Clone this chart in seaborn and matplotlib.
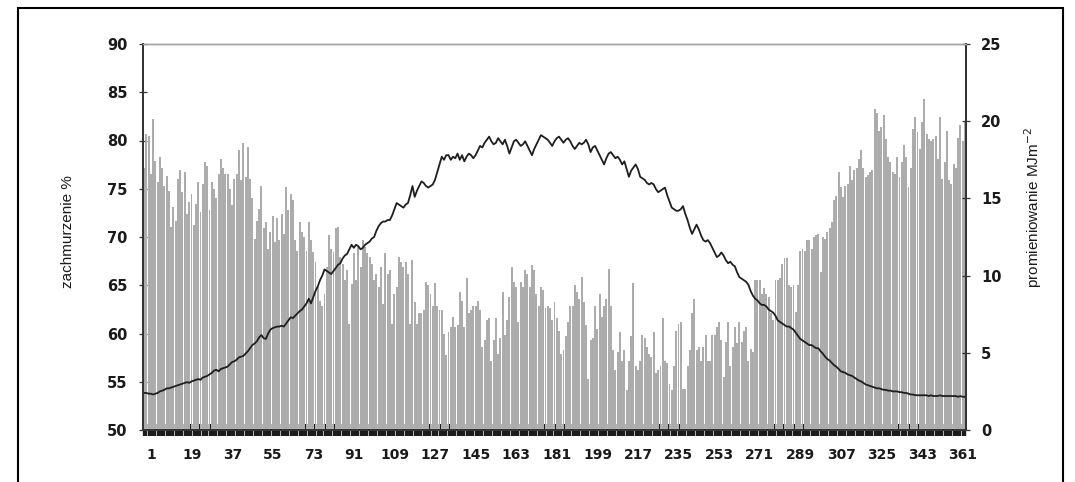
import matplotlib
matplotlib.use("Agg")
import matplotlib.pyplot as plt
import matplotlib.patches as mpatches
import matplotlib.transforms as mtransforms
import numpy as np
import pandas as pd
import seaborn as sns

# ---- data ----
cloud_jan_feb = [77.1, 80.7, 80.5, 76.5, 82.2, 77.9, 75.7, 78.3, 77.2, 75.3,
                 76.3, 74.8, 71.0, 73.1, 71.7, 76.0, 76.9, 74.7, 76.7, 72.4,
                 73.6, 74.5, 71.2, 73.4, 75.7, 72.6, 75.5, 77.8, 77.4, 72.8,
                 75.7, 75.0, 74.0, 76.5, 78.1, 77.2, 76.5, 76.5, 75.0, 73.3,
                 76.0, 76.5, 79.0, 75.9, 79.7, 76.2, 79.3, 76.0, 74.0, 69.8,
                 71.7, 72.9, 75.3, 70.9, 71.6, 68.8, 70.5, 72.2, 69.5]
cloud_mar_apr = [72.0, 69.7, 72.4, 70.3, 75.2, 72.8, 74.5, 73.8, 69.7, 68.6,
                 71.6, 70.5, 70.0, 68.6, 71.6, 69.7, 68.4, 67.4, 64.8, 63.4,
                 62.8, 64.1, 66.9, 70.2, 68.8, 68.4, 70.9, 71.0, 67.9, 67.2,
                 65.5, 66.6, 61.0, 65.1, 68.3, 65.5, 69.0, 66.9, 69.7, 69.0,
                 68.3, 67.9, 67.2, 65.5, 66.2, 64.8, 66.9, 63.1, 68.3, 66.2,
                 66.6, 61.0, 64.1, 64.8, 67.9, 67.4, 66.9, 67.4, 66.2, 61.0]
cloud_may_jun = [67.6, 63.3, 61.0, 62.1, 62.1, 62.4, 65.3, 65.0, 64.1, 62.8,
                 65.2, 62.8, 62.4, 62.4, 60.0, 57.8, 60.2, 60.7, 61.7, 60.7,
                 60.9, 64.3, 63.4, 60.7, 65.7, 62.1, 62.4, 62.8, 62.9, 63.4,
                 62.4, 58.6, 59.3, 61.4, 61.6, 57.2, 59.3, 61.6, 57.9, 59.5,
                 64.3, 59.8, 61.4, 63.8, 66.9, 65.3, 64.8, 61.2, 65.3, 64.8,
                 66.6, 66.2, 64.8, 67.1, 66.6, 64.1, 62.8, 64.8, 64.5, 62.6,
                 62.8, 62.6, 61.4]
cloud_jul_aug = [63.3, 61.6, 60.3, 57.9, 58.3, 59.7, 61.2, 62.8, 62.8, 65.0,
                 64.3, 63.6, 65.9, 63.3, 60.9, 55.3, 59.3, 59.5, 62.8, 60.5,
                 64.1, 61.7, 62.8, 63.6, 66.7, 62.8, 58.3, 56.2, 58.1, 60.2,
                 57.2, 58.3, 54.1, 57.2, 59.7, 65.2, 56.6, 56.2, 57.2, 59.8,
                 59.5, 58.6, 57.9, 57.6, 60.2, 55.9, 56.2, 56.6, 61.6, 57.1,
                 56.9, 54.8, 54.1, 56.6, 60.3, 61.0]
cloud_sep_oct = [61.2, 54.3, 54.3, 56.6, 58.3, 62.1, 63.6, 58.3, 58.6, 57.2,
                 58.6, 59.8, 57.2, 57.1, 59.8, 59.8, 60.7, 61.2, 59.3, 55.5,
                 59.1, 61.2, 56.6, 58.6, 60.7, 59.0, 61.2, 59.1, 60.3, 60.7,
                 57.1, 58.4, 58.1, 65.5, 65.5, 65.5, 64.1, 64.7, 64.1, 63.8,
                 62.1, 61.4, 65.5, 65.5, 65.7, 67.2, 67.8, 67.8, 65.0, 64.8,
                 65.0, 62.2, 65.0, 68.6, 68.8, 68.6, 69.7, 69.7, 68.8, 70.0,
                 70.2]
cloud_nov_dec = [70.3, 66.4, 70.0, 69.8, 70.5, 70.9, 71.6, 73.8, 74.3, 76.7,
                 75.2, 74.1, 75.3, 75.5, 77.4, 75.9, 76.9, 77.2, 78.1, 79.0,
                 77.2, 76.2, 76.4, 76.7, 76.9, 83.3, 82.9, 81.0, 81.4, 82.6,
                 80.2, 78.3, 77.8, 76.7, 76.5, 78.3, 76.2, 77.8, 79.5, 78.3,
                 75.2, 77.2, 81.2, 82.4, 80.9, 79.1, 81.9, 84.3, 80.7, 80.2,
                 80.0, 80.2, 80.5, 78.1, 82.4, 76.0, 77.8, 81.0, 75.9, 75.5,
                 77.6, 77.2, 80.3, 81.6, 80.0, 81.9]

radiation = [
    2.4, 2.4, 2.35, 2.35, 2.3, 2.35, 2.4, 2.5, 2.55, 2.6, 2.7, 2.7, 2.75, 2.8, 2.85,
    2.9, 2.95, 3.0, 3.05, 3.1, 3.05, 3.15, 3.2, 3.25, 3.3, 3.25, 3.4, 3.45, 3.5, 3.6,
    3.7, 3.85, 3.9, 3.8, 3.95, 4.0, 4.05, 4.1, 4.25, 4.4, 4.45, 4.55, 4.7, 4.75, 4.8,
    4.95, 5.1, 5.3, 5.5, 5.6, 5.75, 6.0, 6.15, 5.95, 5.9, 6.25, 6.5, 6.6, 6.65, 6.7,
    6.7, 6.75, 6.7, 6.9, 7.1, 7.3, 7.25, 7.4, 7.55, 7.7, 7.8, 8.0, 8.2, 8.5, 8.2,
    8.6, 9.0, 9.3, 9.7, 10.0, 10.4, 10.3, 10.2, 10.1, 10.3, 10.5, 10.7, 10.8, 11.1, 11.3,
    11.4, 11.7, 12.0, 11.8, 12.0, 11.9, 11.7, 11.8, 12.0, 12.1, 12.2, 12.4, 12.5, 12.9, 13.2,
    13.4, 13.5, 13.5, 13.6, 13.6, 13.9, 14.3, 14.7, 14.6, 14.5, 14.4, 14.6, 14.7, 15.2, 15.8,
    15.1, 15.5, 15.8, 16.1, 16.0, 15.8, 15.7, 15.8, 15.9, 16.2, 16.7, 17.2, 17.7, 17.5, 17.8,
    17.8, 17.5, 17.7, 17.6, 17.9, 17.5, 17.8, 17.4, 17.7, 17.9, 17.8, 17.6, 17.8, 18.1, 18.4,
    18.3, 18.6, 18.8, 19.0, 18.7, 18.5, 18.6, 18.9, 18.7, 18.5, 18.8, 18.4, 17.9, 18.3, 18.7,
    18.8, 18.6, 18.4, 18.5, 18.7, 18.4, 18.1, 17.8, 18.2, 18.5, 18.8, 19.1, 19.0, 18.9, 18.8,
    18.6, 18.4, 18.7, 18.9, 19.0, 18.8, 18.6, 18.8, 18.9, 18.7, 18.4, 18.2, 18.4, 18.6, 18.5,
    18.6, 18.8, 18.5, 18.0, 18.3, 18.4, 18.1, 17.8, 17.5, 17.2, 17.6, 17.9, 18.0, 17.8, 17.6,
    17.7, 17.5, 17.2, 17.4, 16.9, 16.4, 16.8, 17.0, 17.2, 16.9, 16.4, 16.3, 16.2, 16.0, 15.9,
    16.0, 15.9, 15.6, 15.4, 15.5, 15.6, 15.7, 15.2, 14.8, 14.4, 14.3, 14.2, 14.2, 14.3, 14.5,
    14.0, 13.6, 13.1, 12.7, 13.0, 13.3, 13.0, 12.6, 12.3, 12.2, 12.3, 12.1, 11.8, 11.5, 11.2,
    11.3, 11.5, 11.3, 11.0, 10.8, 10.9, 10.7, 10.6, 10.2, 9.9, 9.8, 9.7, 9.6, 9.4, 9.0,
    8.7, 8.5, 8.4, 8.2, 8.1, 8.1, 8.0, 7.8, 7.7, 7.6, 7.4, 7.1, 7.0, 6.9, 6.8,
    6.7, 6.7, 6.6, 6.5, 6.3, 6.1, 5.9, 5.8, 5.7, 5.6, 5.5, 5.5, 5.4, 5.3, 5.3,
    5.1, 4.95, 4.75, 4.6, 4.5, 4.35, 4.2, 4.1, 3.95, 3.8, 3.75, 3.7, 3.6, 3.55, 3.5,
    3.4, 3.3, 3.2, 3.15, 3.05, 2.95, 2.9, 2.85, 2.8, 2.75, 2.7, 2.7, 2.65, 2.6, 2.6,
    2.55, 2.55, 2.5, 2.5, 2.5, 2.45, 2.45, 2.4, 2.4, 2.35, 2.3, 2.3, 2.25, 2.25, 2.25,
    2.25, 2.25, 2.25, 2.2, 2.25, 2.2, 2.2, 2.2, 2.25, 2.2, 2.2, 2.2, 2.2, 2.2, 2.2,
    2.2, 2.15, 2.2, 2.15, 2.15]

cloud = (cloud_jan_feb + cloud_mar_apr + cloud_may_jun + cloud_jul_aug
         + cloud_sep_oct + cloud_nov_dec)
days = list(range(1, len(cloud) + 1))
tick_days = list(range(1, 366, 18))

left_label = "zachmurzenie %"
right_label = "promieniowanie MJm$^{-2}$"

df = pd.DataFrame({"day": days, "cloud": cloud, "rad": radiation[:len(days)]})

# ---- figure ----
sns.set_style("white")
plt.rcParams["font.family"] = ["Liberation Sans", "DejaVu Sans"]

W, H = 1075, 482
fig = plt.figure(figsize=(W / 100, H / 100), dpi=100)
x0, x1, ytop, ybot = 143, 966, 44, 430
ax = fig.add_axes([x0 / W, 1 - ybot / H, (x1 - x0) / W, (ybot - ytop) / H])

sns.barplot(data=df, x="day", y="cloud", native_scale=True, color="#acacac",
            saturation=1, width=0.86, linewidth=0, errorbar=None, ax=ax)
ax.set_xlim(0.5, len(days) + 0.5)
ax.set_ylim(50, 90)
ax.set_yticks(range(50, 91, 5))

ax2 = ax.twinx()
sns.lineplot(data=df, x="day", y="rad", color="#1e1e1e", linewidth=1.3, ax=ax2)
ax2.set_ylim(0, 25)
ax2.set_yticks(range(0, 26, 5))
ax2.set_xlim(0.5, len(days) + 0.5)

for a in (ax, ax2):
    a.set_xlabel("")
    a.set_ylabel("")

ax.set_xticks(days)
ax.set_xticklabels([str(d) if d in tick_days else "" for d in days])
ax.tick_params(axis="x", which="major", bottom=True, direction="inout", length=8,
               width=1.7, color="#1c1c1c", pad=9, labelsize=10)
ax.tick_params(axis="y", left=True, direction="inout", length=6, width=0.9,
               color="#333333", labelsize=10.5, pad=8)
ax2.tick_params(axis="y", right=True, direction="inout", length=6, width=0.9,
                color="#333333", labelsize=10.5, pad=8)

shift = mtransforms.ScaledTranslation(7 / 100, 0, fig.dpi_scale_trans)
for lab in ax.get_xticklabels():
    lab.set_transform(lab.get_transform() + shift)
for lab in ax.get_xticklabels() + ax.get_yticklabels() + ax2.get_yticklabels():
    lab.set_fontweight("bold")
    lab.set_color("#1a1a1a")
    lab.set_family(["DejaVu Sans"])

for a in (ax, ax2):
    for side in ("left", "right", "bottom"):
        a.spines[side].set_color("#333333")
        a.spines[side].set_linewidth(1.3)
    a.spines["top"].set_color("#a0a0a0")
    a.spines["top"].set_linewidth(1.0)

fig.text(68 / W, 1 - 232 / H, left_label, rotation=90, ha="center", va="center",
         fontsize=11, color="#1a1a1a",
         family=["Liberation Sans Narrow", "Liberation Sans", "DejaVu Sans"])
fig.text(1033 / W, 1 - 208 / H, right_label, rotation=90, ha="center", va="center",
         fontsize=11, color="#1a1a1a",
         family=["Liberation Sans Narrow", "Liberation Sans", "DejaVu Sans"])

# outer frame
frame = mpatches.Rectangle((18 / W, -0.05), (1063 - 18) / W, (1 - 8 / H) + 0.05,
                           transform=fig.transFigure, fill=False,
                           edgecolor="black", linewidth=1.5)
fig.patches.append(frame)

fig.savefig("out.png", dpi=100)
